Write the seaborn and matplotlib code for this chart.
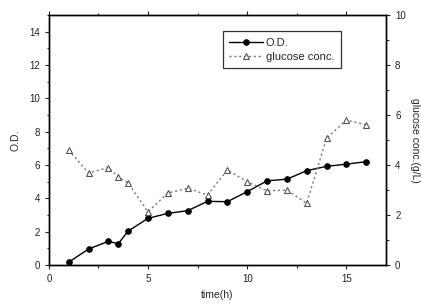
import numpy as np
import pandas as pd
import matplotlib
matplotlib.use("Agg")
import matplotlib.pyplot as plt
import seaborn as sns
from matplotlib.ticker import MultipleLocator

# time points (h)
time_h = [1, 2, 3, 3.5, 4, 5, 6, 7, 8, 9, 10, 11, 12, 13, 14, 15, 16]
# optical density
od = [0.17, 0.96, 1.42, 1.28, 2.04, 2.8, 3.1, 3.26, 3.82, 3.8, 4.4, 5.05, 5.15, 5.66, 5.92, 6.05, 6.2]
# glucose concentration (g/L)
glucose = [4.6, 3.68, 3.9, 3.53, 3.27, 2.13, 2.88, 3.07, 2.8, 3.8, 3.33, 2.97, 3.0, 2.47, 5.07, 5.8, 5.6]

df = pd.DataFrame({'time': time_h, 'od': od, 'glucose': glucose})

sns.set_style("ticks")
plt.rcParams['font.family'] = ['Liberation Sans', 'DejaVu Sans']

fig = plt.figure(figsize=(4.21, 3.05), dpi=100)
ax = fig.add_axes([0.116, 0.131, 0.801, 0.82])
ax2 = ax.twinx()

sns.lineplot(data=df, x='time', y='od', ax=ax, color='black', lw=1.0,
             marker='o', markersize=4, markeredgecolor='black', label='O.D.', legend=False)
sns.lineplot(data=df, x='time', y='glucose', ax=ax2, color='#777777', lw=1.0,
             linestyle=(0, (1.5, 2)), marker='^', markersize=5, markerfacecolor='white',
             markeredgecolor='#555555', markeredgewidth=0.8, label='glucose conc.', legend=False)

ax.set_xlim(0, 17)
ax.set_ylim(0, 15)
ax2.set_ylim(0, 10)

ax.xaxis.set_major_locator(MultipleLocator(5))
ax.xaxis.set_minor_locator(MultipleLocator(2.5))
ax.yaxis.set_major_locator(MultipleLocator(2))
ax.yaxis.set_minor_locator(MultipleLocator(1))
ax2.yaxis.set_major_locator(MultipleLocator(2))
ax2.yaxis.set_minor_locator(MultipleLocator(1))

for a in (ax, ax2):
    for s in a.spines.values():
        s.set_visible(True)
        s.set_linewidth(1.0)
        s.set_color('black')
ax.tick_params(axis='both', which='major', length=3, width=0.8, labelsize=7, colors='#222222')
ax.tick_params(axis='both', which='minor', length=1.8, width=0.8)
ax.tick_params(axis='x', top=True, which='both')
ax2.tick_params(axis='y', which='major', length=3, width=0.8, labelsize=7, colors='#222222')
ax2.tick_params(axis='y', which='minor', length=1.8, width=0.8)

ax.set_xlabel('time(h)', fontsize=7.5, labelpad=4)
ax.set_ylabel('O.D.', fontsize=7.5, labelpad=6)
ax2.set_ylabel('glucose conc.(g/L)', fontsize=7.5, rotation=-90, labelpad=10)

h1, l1 = ax.get_legend_handles_labels()
h2, l2 = ax2.get_legend_handles_labels()
leg = ax.legend(h1 + h2, l1 + l2, loc='upper left', bbox_to_anchor=(0.515, 0.935),
                fontsize=8, frameon=True, fancybox=False, handlelength=3.0,
                borderpad=0.6, labelspacing=0.35, handletextpad=0.3, borderaxespad=0)
leg.get_frame().set_edgecolor('black')
leg.get_frame().set_linewidth(0.9)

fig.savefig('out.png', dpi=100)
